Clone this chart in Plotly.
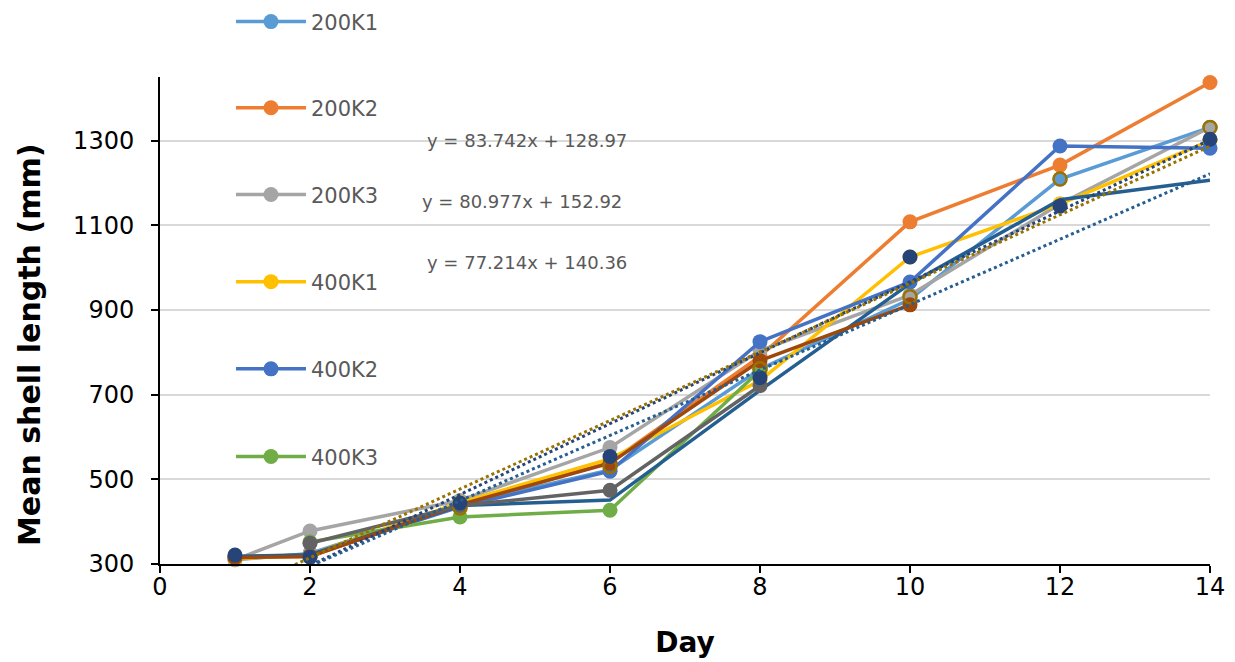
import plotly.graph_objects as go

# ---------------- data ----------------
days_full = [1, 2, 4, 6, 8, 10, 12, 14]

s200K1 = [310, 325, 440, 522, 760, 925, 1209, 1331]
s200K2 = [315, 318, 440, 540, 790, 1108, 1242, 1437]
s200K3 = [310, 378, 450, 575, 804, 935, 1150, 1331]
s400K1 = [312, 322, 445, 548, 733, 1025, 1150, 1300]
s400K2 = [318, 320, 435, 519, 825, 966, 1287, 1282]
s400K3_days = [2, 4, 6, 8]
s400K3 = [352, 411, 427, 757]

# unlabeled series (legend entries not shown in the reference)
extra_blue_days = [1, 2, 4, 6, 8, 10, 12, 14]
extra_blue = [318, 322, 438, 451, 710, 962, 1160, 1206]
extra_brown_days = [1, 2, 4, 6, 8, 10]
extra_brown = [315, 318, 440, 538, 780, 912]
extra_dgray_days = [2, 4, 6, 8]
extra_dgray = [349, 438, 474, 721]
extra_gold_days = [4, 6, 8, 10, 12, 14]
extra_gold = [432, 530, 761, 931, 1209, 1331]
extra_navy_days = [1, 2, 4, 6, 8, 10, 12, 14]
extra_navy = [321, 316, 444, 554, 740, 1025, 1145, 1303]

# trendlines  (slope, intercept)
trend_navy = (83.742, 128.97)
trend_gold = (80.977, 152.92)
trend_blue = (77.214, 140.36)
trend_x = [1, 14]

eq_labels = ["y = 83.742x + 128.97", "y = 80.977x + 152.92", "y = 77.214x + 140.36"]

x_ticks = [0, 2, 4, 6, 8, 10, 12, 14]
y_ticks = [300, 500, 700, 900, 1100, 1300]

x_title = "Day"
y_title = "Mean shell length (mm)"

FONT = "DejaVu Sans"
fig = go.Figure()

LW = 3.5
MS = 15

legend_names = []

def line_trace(x, y, color, name, legend=True, markers=True):
    lg = None
    if legend:
        legend_names.append(name)
        idx = len(legend_names)
        lg = "legend" if idx == 1 else f"legend{idx}"
    fig.add_trace(go.Scatter(
        x=x, y=y, name=name,
        mode="lines+markers" if markers else "lines",
        line=dict(color=color, width=LW),
        marker=dict(color=color, size=MS),
        showlegend=legend,
        legend=lg if lg else "legend",
        cliponaxis=False,
    ))

line_trace(days_full, s200K1, "#5B9BD5", "200K1")
line_trace(days_full, s200K2, "#ED7D31", "200K2")
line_trace(days_full, s200K3, "#A5A5A5", "200K3")
line_trace(days_full, s400K1, "#FFC000", "400K1")
line_trace(days_full, s400K2, "#4472C4", "400K2")
line_trace(s400K3_days, s400K3, "#70AD47", "400K3")
line_trace(extra_blue_days, extra_blue, "#255E91", "s7", legend=False, markers=False)
line_trace(extra_brown_days, extra_brown, "#9E480E", "s8", legend=False)
line_trace(extra_dgray_days, extra_dgray, "#636363", "s9", legend=False)

fig.add_trace(go.Scatter(
    x=extra_gold_days, y=extra_gold, mode="markers", showlegend=False,
    marker=dict(size=MS - 2, color="rgba(0,0,0,0)", line=dict(color="#997300", width=2.5)),
    cliponaxis=False,
))
fig.add_trace(go.Scatter(
    x=extra_navy_days, y=extra_navy, mode="markers", showlegend=False,
    marker=dict(size=MS, color="#264478"), cliponaxis=False,
))

for (m, b), col in [(trend_navy, "#264478"), (trend_gold, "#997300"), (trend_blue, "#255E91")]:
    fig.add_trace(go.Scatter(
        x=trend_x, y=[m * xv + b for xv in trend_x], mode="lines", showlegend=False,
        line=dict(color=col, width=3, dash="dot"),
    ))

# equation labels
eq_pos = [(4.89, 1300), (4.83, 1157), (4.89, 1011)]
for txt, (ax, ay) in zip(eq_labels, eq_pos):
    fig.add_annotation(x=ax, y=ay, text=txt, showarrow=False,
                       font=dict(family=FONT, size=18, color="#595959"))

# y-axis title (placed as rotated annotation to match vertical offset)
fig.add_annotation(x=-0.1238, y=0.4497, xref="paper", yref="paper",
                   text=f"<b>{y_title}</b>", textangle=-90, showarrow=False,
                   xanchor="center", yanchor="middle",
                   font=dict(family=FONT, size=30, color="#000000"))

# separate legend boxes, one per labelled series
legend_y = [1.113, 0.936, 0.758, 0.579, 0.400, 0.220]
legend_layout = {}
for i, yv in enumerate(legend_y):
    key = "legend" if i == 0 else f"legend{i + 1}"
    legend_layout[key] = dict(
        x=0.0676, xanchor="left", y=yv, yanchor="middle",
        bgcolor="rgba(0,0,0,0)", borderwidth=0,
        font=dict(family=FONT, size=21, color="#595959"),
        itemwidth=70,
    )

fig.update_layout(
    width=1227, height=654,
    paper_bgcolor="white", plot_bgcolor="white",
    margin=dict(l=152, r=25, t=69, b=98, autoexpand=False),
    font=dict(family=FONT, color="#000000"),
    xaxis=dict(
        range=[0, 14], tickvals=x_ticks, showgrid=False, zeroline=False,
        showline=True, linecolor="black", linewidth=2, automargin=False,
        ticks="outside", ticklen=7, tickwidth=2, tickcolor="black",
        ticklabelstandoff=-7,
        tickfont=dict(family=FONT, size=24, color="#000000"),
        title=dict(text=f"<b>{x_title}</b>", font=dict(family=FONT, size=28, color="#000000"), standoff=33),
    ),
    yaxis=dict(
        range=[300, 1450], tickvals=y_ticks, showgrid=True, gridcolor="#D9D9D9", gridwidth=2,
        zeroline=False, showline=True, linecolor="black", linewidth=2, automargin=False,
        ticks="outside", ticklen=7, tickwidth=2, tickcolor="black",
        ticklabelstandoff=12,
        tickfont=dict(family=FONT, size=24, color="#000000"),
    ),
    **legend_layout,
)

fig.write_html("out.html")
